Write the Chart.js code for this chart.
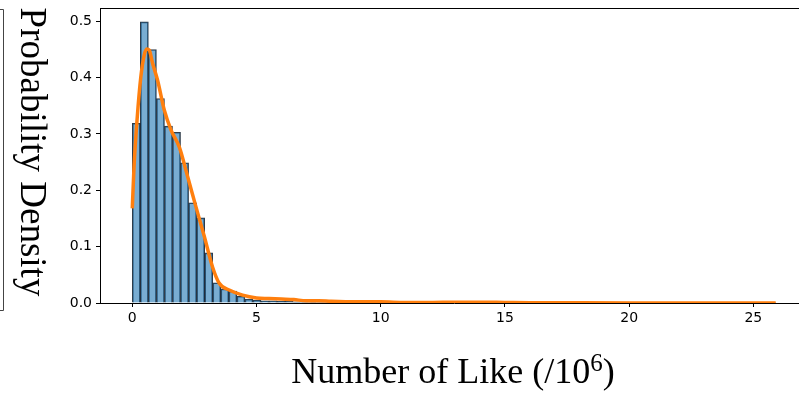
<!DOCTYPE html>
<html>
<head>
<meta charset="utf-8">
<script src="https://cdn.jsdelivr.net/npm/chart.js@4.4.1/dist/chart.umd.min.js"></script>
<style>
  html, body { margin: 0; padding: 0; background: #fff; overflow: hidden; }
  canvas { display: block; }
</style>
</head>
<body>
<canvas id="histChart" width="830" height="394" style="width:830px;height:394px"></canvas>
<script>
// Histogramme : 80 classes de 0 à 25.9 (millions de likes)
const histMin = 0;
const histMax = 25.9;
const binCount = 80;
const binDensity = [
    0.319, 0.499, 0.450, 0.363, 0.314, 0.303, 0.249, 0.178, 0.151, 0.089,
    0.036, 0.025, 0.021, 0.012, 0.007, 0.005, 0.004, 0.004, 0.003, 0.003,
    0.002, 0.002, 0.001, 0.002, 0.001, 0.001, 0.001, 0.001, 0.000, 0.001,
    0.000, 0.001, 0.000, 0.000, 0.000, 0.000, 0.000, 0.000, 0.000, 0.000,
    0.001, 0.000, 0.000, 0.001, 0.001, 0.000, 0.000, 0.000, 0.000, 0.000,
    0.000, 0.000, 0.000, 0.000, 0.000, 0.000, 0.000, 0.000, 0.000, 0.000,
    0.000, 0.000, 0.000, 0.000, 0.000, 0.000, 0.000, 0.000, 0.000, 0.000,
    0.000, 0.000, 0.000, 0.000, 0.000, 0.000, 0.000, 0.000, 0.000, 0.001
];

// Courbe KDE (orange)
const kdeX = [0, 0.07, 0.2, 0.34, 0.48, 0.58, 0.68, 0.82, 1.02, 1.29, 1.56, 1.89, 2.23, 2.56, 2.9, 3.23, 3.5, 3.9, 4.44, 5.0, 5.5, 6.0, 6.5, 7.0, 7.5, 8.0, 9.0, 10.0, 11.0, 12.0, 13.0, 14.0, 15.0, 16.0, 18.0, 20.0, 22.0, 24.0, 25.9];
const kdeY = [0.168, 0.242, 0.33, 0.40, 0.440, 0.451, 0.449, 0.425, 0.395, 0.342, 0.307, 0.277, 0.224, 0.171, 0.118, 0.064, 0.035, 0.023, 0.014, 0.009, 0.008, 0.007, 0.006, 0.004, 0.004, 0.003, 0.002, 0.002, 0.001, 0.001, 0.0015, 0.0015, 0.001, 0.0005, 0.0003, 0.0002, 0.0002, 0.0001, 0.0001];

// Ticks
const xTicks = [0, 5, 10, 15, 20, 25];
const yTicks = [0.0, 0.1, 0.2, 0.3, 0.4, 0.5];

const binWidth = (histMax - histMin) / binCount;
const histData = binDensity.map((d, i) => ({ x: histMin + (i + 0.5) * binWidth, y: d }));
const kdeData = kdeX.map((x, i) => ({ x: x, y: kdeY[i] }));

const tickFont = { family: 'DejaVu Sans', size: 14 };

// Titres d'axes + cadre (spine du haut, petit crochet à gauche)
const decorations = {
    id: 'decorations',
    afterDraw(chart) {
        const ctx = chart.ctx;
        const area = chart.chartArea;
        ctx.save();
        // spine du haut
        ctx.strokeStyle = '#000';
        ctx.lineWidth = 1;
        ctx.beginPath();
        ctx.moveTo(area.left, Math.round(area.top) + 0.5);
        ctx.lineTo(area.right, Math.round(area.top) + 0.5);
        ctx.stroke();

        // crochet à gauche
        ctx.strokeStyle = '#444';
        ctx.beginPath();
        ctx.moveTo(0, 9.5); ctx.lineTo(3.5, 9.5); ctx.lineTo(3.5, 310.5); ctx.lineTo(0, 310.5);
        ctx.stroke();

        ctx.fillStyle = '#000';
        // titre Y (tourné dans le sens horaire)
        ctx.font = '37px "Liberation Serif"';
        ctx.translate(21, 152);
        ctx.rotate(Math.PI / 2);
        ctx.textAlign = 'center';
        ctx.textBaseline = 'alphabetic';
        ctx.fillText('Probability Density', 0, 0);
        ctx.restore();

        // titre X avec exposant
        ctx.save();
        ctx.fillStyle = '#000';
        ctx.textBaseline = 'alphabetic';
        ctx.textAlign = 'left';
        const main = 'Number of Like (/10';
        ctx.font = '36px "Liberation Serif"';
        const w1 = ctx.measureText(main).width;
        ctx.font = '25px "Liberation Serif"';
        const w2 = ctx.measureText('6').width;
        ctx.font = '36px "Liberation Serif"';
        const w3 = ctx.measureText(')').width;
        let x = 453 - (w1 + w2 + w3) / 2;
        const base = 383;
        ctx.fillText(main, x, base);
        x += w1;
        ctx.font = '25px "Liberation Serif"';
        ctx.fillText('6', x, base - 12);
        x += w2;
        ctx.font = '36px "Liberation Serif"';
        ctx.fillText(')', x, base);
        ctx.restore();
    }
};

new Chart(document.getElementById('histChart').getContext('2d'), {
    type: 'bar',
    data: {
        datasets: [
            {
                type: 'line',
                label: 'KDE',
                data: kdeData,
                borderColor: '#ff7f0e',
                borderWidth: 3.5,
                pointRadius: 0,
                cubicInterpolationMode: 'monotone',
                fill: false,
                order: 0
            },
            {
                type: 'bar',
                label: 'Histogram',
                data: histData,
                backgroundColor: 'rgba(31, 119, 180, 0.6)',
                borderColor: 'rgba(10, 25, 40, 0.85)',
                borderWidth: 1,
                barPercentage: 1,
                categoryPercentage: 1,
                grouped: false,
                order: 1
            }
        ]
    },
    options: {
        responsive: false,
        maintainAspectRatio: false,
        devicePixelRatio: 1,
        animation: false,
        layout: { padding: { top: 8, right: 22, left: 0, bottom: 0 } },
        plugins: {
            legend: { display: false },
            tooltip: { enabled: false }
        },
        scales: {
            x: {
                type: 'linear',
                offset: false,
                min: -1.3,
                max: 27.2,
                afterFit: (s) => { s.height = 91; s.paddingLeft = 0; s.paddingRight = 0; },
                afterBuildTicks: (s) => { s.ticks = xTicks.map(v => ({ value: v })); },
                ticks: { font: tickFont, color: '#000', padding: 3, callback: (v) => String(v) },
                grid: { offset: false, drawOnChartArea: false, drawTicks: true, tickLength: 4, tickColor: '#000' },
                border: { display: true, color: '#000', width: 1 }
            },
            y: {
                min: 0,
                max: 0.5236,
                afterFit: (s) => { s.width = 100; s.paddingTop = 0; s.paddingBottom = 0; },
                afterBuildTicks: (s) => { s.ticks = yTicks.map(v => ({ value: v })); },
                ticks: { font: tickFont, color: '#000', padding: 4, callback: (v) => v.toFixed(1) },
                grid: { drawOnChartArea: false, drawTicks: true, tickLength: 4, tickColor: '#000' },
                border: { display: true, color: '#000', width: 1 }
            }
        }
    },
    plugins: [decorations]
});
</script>
</body>
</html>
